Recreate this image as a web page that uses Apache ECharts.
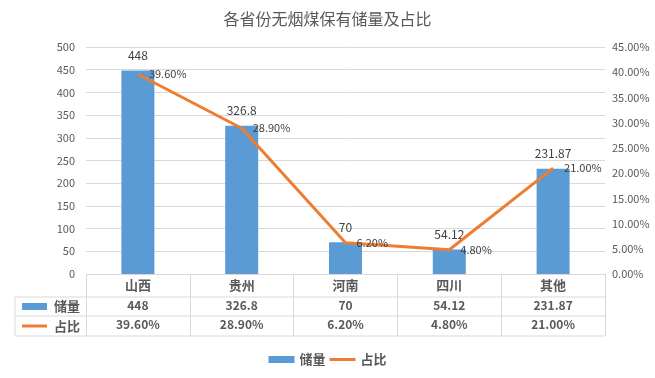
<!DOCTYPE html>
<html>
<head>
<meta charset="utf-8">
<script src="https://cdn.jsdelivr.net/npm/echarts@6/dist/echarts.min.js"></script>
<style>
  html, body { margin: 0; padding: 0; background: #fff; }
  #chart { width: 655px; height: 378px; }
</style>
</head>
<body>
<div id="chart"></div>
<script>
const categories = ['山西', '贵州', '河南', '四川', '其他']
const reserves = [448, 326.8, 70, 54.12, 231.87]
const shares = [0.396, 0.289, 0.062, 0.048, 0.21]
const reserveLabels = ['448', '326.8', '70', '54.12', '231.87']

const FONT = '"Noto Sans CJK SC", "Liberation Sans", sans-serif'
const TXT = '#595959'
const LINE = '#d9d9d9'
const BLUE = '#5B9BD5'
const ORANGE = '#ED7D31'

// plot box
const gl = 86, gr = 605, gt = 47, gb = 274
// table rows
const rowY = [274, 297, 316, 336]
const tableLeft = 15

const pct = v => (v * 100).toFixed(2) + '%'

const chart = echarts.init(document.getElementById('chart'))

const graphic = [
  // horizontal table lines extending into left column
  ...[rowY[1], rowY[2], rowY[3]].map(y => ({
    type: 'line', shape: { x1: tableLeft, y1: y, x2: gr, y2: y },
    style: { stroke: LINE, lineWidth: 1 }, silent: true
  })),
  { type: 'line', shape: { x1: tableLeft, y1: rowY[1], x2: tableLeft, y2: rowY[3] },
    style: { stroke: LINE, lineWidth: 1 }, silent: true },
  // left column keys
  { type: 'rect', shape: { x: 22, y: 303, width: 25, height: 7 }, style: { fill: BLUE } },
  { type: 'text', style: { x: 54, y: 306.5, text: '储量', font: 'bold 13px ' + FONT, fill: TXT, verticalAlign: 'middle' } },
  { type: 'line', shape: { x1: 22, y1: 326, x2: 47, y2: 326 }, style: { stroke: ORANGE, lineWidth: 3 } },
  { type: 'text', style: { x: 54, y: 326, text: '占比', font: 'bold 13px ' + FONT, fill: TXT, verticalAlign: 'middle' } }
]

const option = {
  textStyle: { fontFamily: FONT },
  title: {
    text: '各省份无烟煤保有储量及占比',
    left: 'center',
    top: 6,
    textStyle: { fontFamily: FONT, fontSize: 16, fontWeight: 'normal', color: TXT }
  },
  legend: {
    data: [
      { name: '储量', icon: 'rect' },
      { name: '占比', icon: 'path://M0,0H26V3H0Z' }
    ],
    bottom: 7,
    left: 'center',
    itemWidth: 26,
    itemHeight: 7,
    itemGap: 4,
    textStyle: { fontFamily: FONT, fontSize: 13, fontWeight: 'bold', color: TXT }
  },
  grid: { left: gl, right: 655 - gr, top: gt, bottom: 378 - gb },
  xAxis: [
    {
      type: 'category',
      data: categories,
      axisLine: { lineStyle: { color: LINE } },
      axisTick: { show: true, interval: 0, length: rowY[3] - rowY[0], lineStyle: { color: LINE } },
      axisLabel: { color: TXT, fontSize: 13, fontWeight: 'bold', margin: 5, interval: 0 }
    },
    {
      type: 'category',
      data: reserveLabels,
      position: 'bottom',
      offset: 23,
      axisLine: { show: false },
      axisTick: { show: false },
      axisLabel: { color: TXT, fontSize: 12, fontWeight: 'bold', margin: 2, interval: 0 }
    },
    {
      type: 'category',
      data: shares.map(pct),
      position: 'bottom',
      offset: 42,
      axisLine: { show: false },
      axisTick: { show: false },
      axisLabel: { color: TXT, fontSize: 12, fontWeight: 'bold', margin: 2, interval: 0 }
    }
  ],
  yAxis: [
    {
      type: 'value',
      min: 0, max: 500, interval: 50,
      axisLine: { show: false },
      axisTick: { show: false },
      axisLabel: { color: TXT, fontSize: 11, margin: 11 },
      splitLine: { lineStyle: { color: LINE } }
    },
    {
      type: 'value',
      min: 0, max: 0.45, interval: 0.05,
      axisLine: { show: false },
      axisTick: { show: false },
      axisLabel: { color: TXT, fontSize: 11, margin: 7, formatter: v => pct(v) },
      splitLine: { show: false }
    }
  ],
  series: [
    {
      name: '储量',
      type: 'bar',
      data: reserves,
      barWidth: 33,
      itemStyle: { color: BLUE },
      label: { show: true, position: 'top', color: '#404040', fontSize: 12, distance: 9 }
    },
    {
      name: '占比',
      type: 'line',
      yAxisIndex: 1,
      data: shares,
      symbol: 'circle',
      symbolSize: 0.01,
      showSymbol: true,
      lineStyle: { color: ORANGE, width: 3 },
      itemStyle: { color: ORANGE },
      label: { show: true, position: 'right', color: '#404040', fontSize: 11, distance: 11, formatter: p => pct(p.value) }
    }
  ],
  graphic: graphic
}

chart.setOption(option)
</script>
</body>
</html>
